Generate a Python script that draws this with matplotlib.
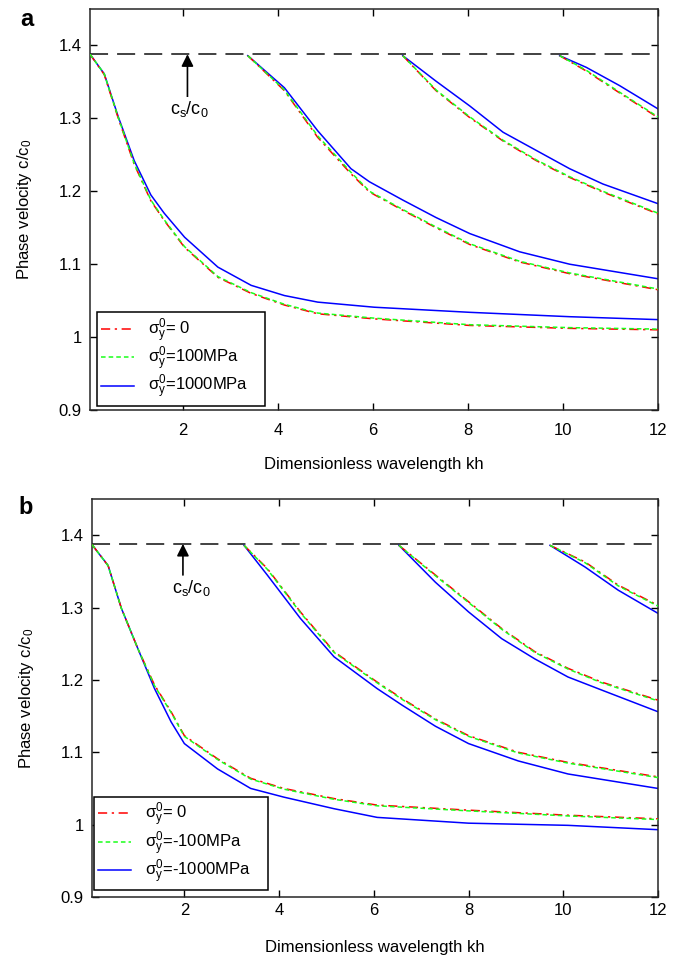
import matplotlib
matplotlib.use("Agg")
import matplotlib.pyplot as plt
from matplotlib.ticker import FormatStrFormatter

plt.rcParams['font.family'] = ['Liberation Sans', 'DejaVu Sans']
plt.rcParams['mathtext.default'] = 'regular'

CS_C0 = 1.388

# ---- panel a: sigma_y^0 = 0 / 100 MPa / 1000 MPa ----
a_m1_x = [0.05, 0.35, 0.64, 0.98, 1.33, 1.61, 2.04, 2.74, 3.44, 4.14, 4.84, 6.03, 8.04, 10.14, 12.0]
a_m1_red = [1.388, 1.360, 1.301, 1.237, 1.187, 1.160, 1.123, 1.082, 1.060, 1.044, 1.032, 1.025, 1.016, 1.012, 1.010]
a_m1_green = [1.388, 1.361, 1.302, 1.238, 1.188, 1.161, 1.124, 1.083, 1.061, 1.045, 1.033, 1.026, 1.017, 1.013, 1.011]
a_m1_blue = [1.388, 1.361, 1.303, 1.242, 1.195, 1.170, 1.137, 1.096, 1.071, 1.057, 1.048, 1.041, 1.034, 1.028, 1.024]

a_m2_x = [3.37, 4.14, 4.84, 5.54, 5.93, 6.63, 7.33, 8.04, 9.09, 10.14, 12.0]
a_m2_red = [1.386, 1.338, 1.274, 1.224, 1.199, 1.174, 1.150, 1.127, 1.103, 1.087, 1.065]
a_m2_green = [1.386, 1.339, 1.276, 1.226, 1.200, 1.175, 1.151, 1.128, 1.104, 1.088, 1.066]
a_m2_blue = [1.386, 1.342, 1.283, 1.231, 1.213, 1.188, 1.164, 1.142, 1.117, 1.100, 1.080]

a_m3_x = [6.63, 7.33, 8.04, 8.74, 9.44, 10.14, 10.84, 12.0]
a_m3_red = [1.386, 1.338, 1.301, 1.269, 1.242, 1.219, 1.199, 1.169]
a_m3_green = [1.386, 1.339, 1.302, 1.270, 1.243, 1.220, 1.200, 1.170]
a_m3_blue = [1.386, 1.351, 1.317, 1.281, 1.256, 1.231, 1.210, 1.183]

a_m4_x = [9.93, 10.49, 11.19, 12.0]
a_m4_red = [1.386, 1.365, 1.335, 1.301]
a_m4_green = [1.386, 1.366, 1.336, 1.302]
a_m4_blue = [1.386, 1.370, 1.345, 1.313]

# ---- panel b: sigma_y^0 = 0 / -100 MPa / -1000 MPa ----
b_m1_x = [0.05, 0.39, 0.67, 1.02, 1.37, 1.72, 2.0, 2.70, 3.40, 4.10, 5.16, 6.07, 8.0, 10.1, 12.0]
b_m1_red = [1.387, 1.358, 1.299, 1.243, 1.193, 1.156, 1.123, 1.091, 1.064, 1.050, 1.036, 1.027, 1.020, 1.013, 1.008]
b_m1_green = [1.387, 1.358, 1.299, 1.243, 1.192, 1.155, 1.122, 1.090, 1.063, 1.049, 1.035, 1.026, 1.019, 1.012, 1.007]
b_m1_blue = [1.387, 1.358, 1.299, 1.243, 1.188, 1.142, 1.112, 1.077, 1.050, 1.038, 1.022, 1.010, 1.002, 0.999, 0.993]

b_m2_x = [3.26, 3.75, 4.45, 5.16, 6.07, 6.6, 7.30, 8.0, 9.05, 10.1, 12.0]
b_m2_red = [1.386, 1.354, 1.294, 1.239, 1.197, 1.174, 1.146, 1.123, 1.100, 1.086, 1.066]
b_m2_green = [1.386, 1.353, 1.293, 1.238, 1.196, 1.173, 1.145, 1.122, 1.099, 1.085, 1.065]
b_m2_blue = [1.386, 1.345, 1.285, 1.232, 1.188, 1.165, 1.136, 1.112, 1.088, 1.070, 1.050]

b_m3_x = [6.53, 7.30, 8.0, 8.70, 9.40, 10.1, 10.81, 12.0]
b_m3_red = [1.386, 1.345, 1.308, 1.271, 1.239, 1.216, 1.197, 1.172]
b_m3_green = [1.386, 1.344, 1.307, 1.270, 1.238, 1.215, 1.196, 1.171]
b_m3_blue = [1.386, 1.335, 1.294, 1.257, 1.229, 1.204, 1.186, 1.156]

b_m4_x = [9.72, 10.46, 11.16, 12.0]
b_m4_red = [1.386, 1.363, 1.331, 1.303]
b_m4_green = [1.386, 1.362, 1.330, 1.302]
b_m4_blue = [1.386, 1.356, 1.324, 1.292]

a_labels = [r'$\sigma^0_y$= 0', r'$\sigma^0_y$=100MPa', r'$\sigma^0_y$=1000MPa']
b_labels = [r'$\sigma^0_y$= 0', r'$\sigma^0_y$=-100MPa', r'$\sigma^0_y$=-1000MPa']

RED = (1.0, 0.0, 0.0)
GREEN = (0.1, 1.0, 0.1)
BLUE = (0.0, 0.0, 1.0)


def draw_panel(ax, modes, labels, arrow_x, arrow_tail, text_y,
               xpad, xlabelpad, leg_box):
    for i, (x, r, g, b) in enumerate(modes):
        ax.plot(x, r, color=RED, lw=1.1, linestyle=(0, (6, 3, 1.5, 3)),
                label=labels[0] if i == 0 else None, zorder=3)
        ax.plot(x, g, color=GREEN, lw=1.1, linestyle=(0, (3, 2)),
                label=labels[1] if i == 0 else None, zorder=3)
        ax.plot(x, b, color=BLUE, lw=1.1, linestyle='-',
                label=labels[2] if i == 0 else None, zorder=2)

    ax.axhline(CS_C0, color=(0.2, 0.2, 0.2), lw=1.3,
               linestyle=(0, (10, 5)), zorder=1)
    ax.annotate('', xy=(arrow_x, CS_C0), xytext=(arrow_x, arrow_tail),
                arrowprops=dict(arrowstyle='-|>', color='k', lw=1.2,
                                mutation_scale=18, shrinkA=0, shrinkB=0))
    ax.text(2.15, text_y, r'c$_s$/c$_0$', fontsize=13, ha='center', va='center',
            bbox=dict(facecolor='white', edgecolor='none', pad=1))

    ax.set_xlim(0.05, 12)
    ax.set_ylim(0.9, 1.45)
    ax.set_xticks([2, 4, 6, 8, 10, 12])
    ax.set_yticks([0.9, 1.0, 1.1, 1.2, 1.3, 1.4])
    ax.yaxis.set_major_formatter(FormatStrFormatter('%g'))
    ax.tick_params(direction='in', top=True, right=True, length=5,
                   width=1, labelsize=12)
    ax.tick_params(axis='y', pad=6)
    ax.tick_params(axis='x', pad=xpad)
    for s in ax.spines.values():
        s.set_linewidth(1.1)
        s.set_color((0.15, 0.15, 0.15))
    ax.set_xlabel('Dimensionless wavelength kh', fontsize=12, labelpad=xlabelpad)
    ax.set_ylabel(r'Phase velocity c/c$_0$', fontsize=12, labelpad=18)

    leg = ax.legend(loc='lower left', bbox_to_anchor=leg_box, mode='expand',
                    fontsize=12, handlelength=2.0, handletextpad=0.8,
                    labelspacing=0.0, borderpad=0.25, fancybox=False,
                    framealpha=1, edgecolor='k', borderaxespad=0)
    leg.get_frame().set_linewidth(1.1)


fig = plt.figure(figsize=(6.85, 9.58), dpi=100)
ax_a = fig.add_axes([0.1314, 0.572, 0.8292, 0.4186])
ax_b = fig.add_axes([0.1343, 0.0637, 0.8263, 0.4154])

modes_a = [
    (a_m1_x, a_m1_red, a_m1_green, a_m1_blue),
    (a_m2_x, a_m2_red, a_m2_green, a_m2_blue),
    (a_m3_x, a_m3_red, a_m3_green, a_m3_blue),
    (a_m4_x, a_m4_red, a_m4_green, a_m4_blue),
]
modes_b = [
    (b_m1_x, b_m1_red, b_m1_green, b_m1_blue),
    (b_m2_x, b_m2_red, b_m2_green, b_m2_blue),
    (b_m3_x, b_m3_red, b_m3_green, b_m3_blue),
    (b_m4_x, b_m4_red, b_m4_green, b_m4_blue),
]

draw_panel(ax_a, modes_a, a_labels, 2.1, 1.328, 1.313, 9, 14,
           (0.012, 0.011, 0.296, 0.2))
draw_panel(ax_b, modes_b, b_labels, 1.97, 1.345, 1.327, 4, 16,
           (0.0035, 0.0176, 0.307, 0.2))

fig.text(27 / 685, 1 - 20 / 958, 'a', fontsize=17, fontweight='bold',
         ha='center', va='center')
fig.text(26 / 685, 1 - 507 / 958, 'b', fontsize=17, fontweight='bold',
         ha='center', va='center')

fig.savefig('out.png', dpi=100)
